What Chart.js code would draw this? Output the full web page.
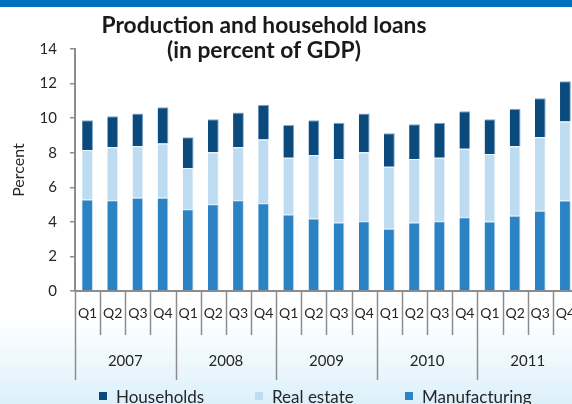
<!DOCTYPE html>
<html>
<head>
<meta charset="utf-8">
<script src="https://cdn.jsdelivr.net/npm/chart.js@4/dist/chart.umd.min.js"></script>
<style>
html,body{margin:0;padding:0;overflow:hidden;background:#fff;width:572px;height:404px;}
canvas{display:block;}
</style>
</head>
<body>
<canvas id="c" width="600" height="404" style="width:600px;height:404px"></canvas>
<script>
const quarters = ["Q1","Q2","Q3","Q4","Q1","Q2","Q3","Q4","Q1","Q2","Q3","Q4","Q1","Q2","Q3","Q4","Q1","Q2","Q3","Q4"];
const years = ["2007","2008","2009","2010","2011"];
const manufacturing = [5.29,5.25,5.39,5.39,4.73,5.02,5.25,5.08,4.42,4.19,3.96,4.04,3.60,3.96,4.04,4.27,4.02,4.35,4.64,5.23];
const realEstate = [2.86,3.06,2.99,3.15,2.39,3.00,3.06,3.69,3.29,3.68,3.67,3.98,3.59,3.67,3.67,3.96,3.90,4.03,4.26,4.57];
const households = [1.73,1.80,1.89,2.09,1.78,1.92,2.01,2.01,1.89,2.01,2.10,2.25,1.94,2.02,2.02,2.17,2.02,2.17,2.25,2.33];
const yTicks = [0,2,4,6,8,10,12,14];
const titleLines = ["Production and household loans","(in percent of GDP)"];

const FONT = "Lato, 'Open Sans', sans-serif";
const TEXT = "#262626";
const AXIS = "#8c8c8c";

const decor = {
  id: 'decor',
  beforeDraw(chart) {
    const ctx = chart.ctx;
    ctx.save();
    ctx.fillStyle = '#ffffff';
    ctx.fillRect(0, 0, chart.width, chart.height);
    const g = ctx.createLinearGradient(0, 318, 0, 404);
    g.addColorStop(0, 'rgba(220,240,250,0)');
    g.addColorStop(1, '#dcf0fa');
    ctx.fillStyle = g;
    ctx.fillRect(0, 318, chart.width, 86);
    ctx.fillStyle = '#0070c0';
    ctx.fillRect(0, 0, chart.width, 7);
    ctx.restore();
  },
  afterDraw(chart) {
    const ctx = chart.ctx;
    const xs = chart.scales.x;
    const bottom = chart.chartArea.bottom;
    const n = quarters.length;
    const step = (xs.getPixelForValue(1) - xs.getPixelForValue(0));
    ctx.save();
    // category separators
    ctx.strokeStyle = AXIS;
    ctx.lineWidth = 1.5;
    for (let i = 0; i <= n; i++) {
      const x = Math.round(xs.getPixelForValue(0) - step / 2 + i * step) + 0.5;
      const len = (i % 4 === 0) ? 89 : 44;
      ctx.beginPath();
      ctx.moveTo(x, bottom);
      ctx.lineTo(x, bottom + len);
      ctx.stroke();
    }
    // quarter labels
    ctx.fillStyle = TEXT;
    ctx.textAlign = 'center';
    ctx.textBaseline = 'middle';
    ctx.font = "14px " + FONT;
    quarters.forEach((q, i) => {
      ctx.fillText(q, xs.getPixelForValue(i), bottom + 22);
    });
    // year labels
    ctx.font = "15px " + FONT;
    years.forEach((y, k) => {
      const x = (xs.getPixelForValue(k * 4) + xs.getPixelForValue(k * 4 + 3)) / 2;
      ctx.fillText(y, x, bottom + 70);
    });
    // title
    ctx.fillStyle = '#1a1a1a';
    ctx.font = "bold 22px " + FONT;
    const w0 = ctx.measureText(titleLines[0]).width;
    const size = 22 * 325 / w0;
    ctx.font = "bold " + size.toFixed(2) + "px " + FONT;
    ctx.fillText(titleLines[0], 264, 26);
    ctx.fillText(titleLines[1], 264, 51);
    // legend
    ctx.font = "17px " + FONT;
    ctx.textAlign = 'left';
    const legendX = [99, 255, 405];
    const order = [2, 1, 0];
    order.forEach((di, k) => {
      const ds = chart.data.datasets[di];
      ctx.fillStyle = ds.backgroundColor;
      ctx.fillRect(legendX[k], 392, 8, 8);
      ctx.fillStyle = TEXT;
      ctx.fillText(ds.label, legendX[k] + 17, 398);
    });
    ctx.restore();
  }
};

new Chart(document.getElementById('c'), {
  type: 'bar',
  data: {
    labels: quarters,
    datasets: [
      { label: 'Manufacturing', data: manufacturing, backgroundColor: '#2b83c6', borderColor: 'rgba(190,220,245,0.9)', borderWidth: {left:0,right:1,top:1,bottom:0}, borderSkipped: 'bottom' },
      { label: 'Real estate', data: realEstate, backgroundColor: '#bddbf1', borderColor: 'rgba(235,245,252,0.9)', borderWidth: {left:0,right:1,top:1,bottom:0}, borderSkipped: 'bottom' },
      { label: 'Households', data: households, backgroundColor: '#0b4a7d', borderColor: 'rgba(120,160,200,0.9)', borderWidth: {left:0,right:1,top:1,bottom:0}, borderSkipped: 'bottom' }
    ]
  },
  options: {
    responsive: false,
    devicePixelRatio: 1,
    animation: false,
    layout: { padding: { left: 0, right: 22, top: 49, bottom: 0 } },
    plugins: { legend: { display: false }, title: { display: false }, tooltip: { enabled: false } },
    datasets: { bar: { categoryPercentage: 1, barPercentage: 0.43 } },
    scales: {
      x: {
        stacked: true,
        ticks: { display: false },
        grid: { display: false },
        border: { display: true, color: AXIS, width: 2 },
        afterFit(s) { s.height = 113; }
      },
      y: {
        stacked: true,
        min: 0, max: 14,
        afterBuildTicks(s) { s.ticks = yTicks.map(v => ({ value: v })); },
        ticks: { color: TEXT, font: { family: FONT, size: 15 }, padding: 13 },
        grid: { drawOnChartArea: false, drawTicks: true, tickLength: 5, color: AXIS, lineWidth: 1.5 },
        border: { display: true, color: AXIS, width: 2 },
        title: { display: true, text: 'Percent', color: TEXT, font: { family: FONT, size: 16 }, padding: { top: 9, bottom: 0 } },
        afterFit(s) { s.width = 75; }
      }
    }
  },
  plugins: [decor]
});
</script>
</body>
</html>
